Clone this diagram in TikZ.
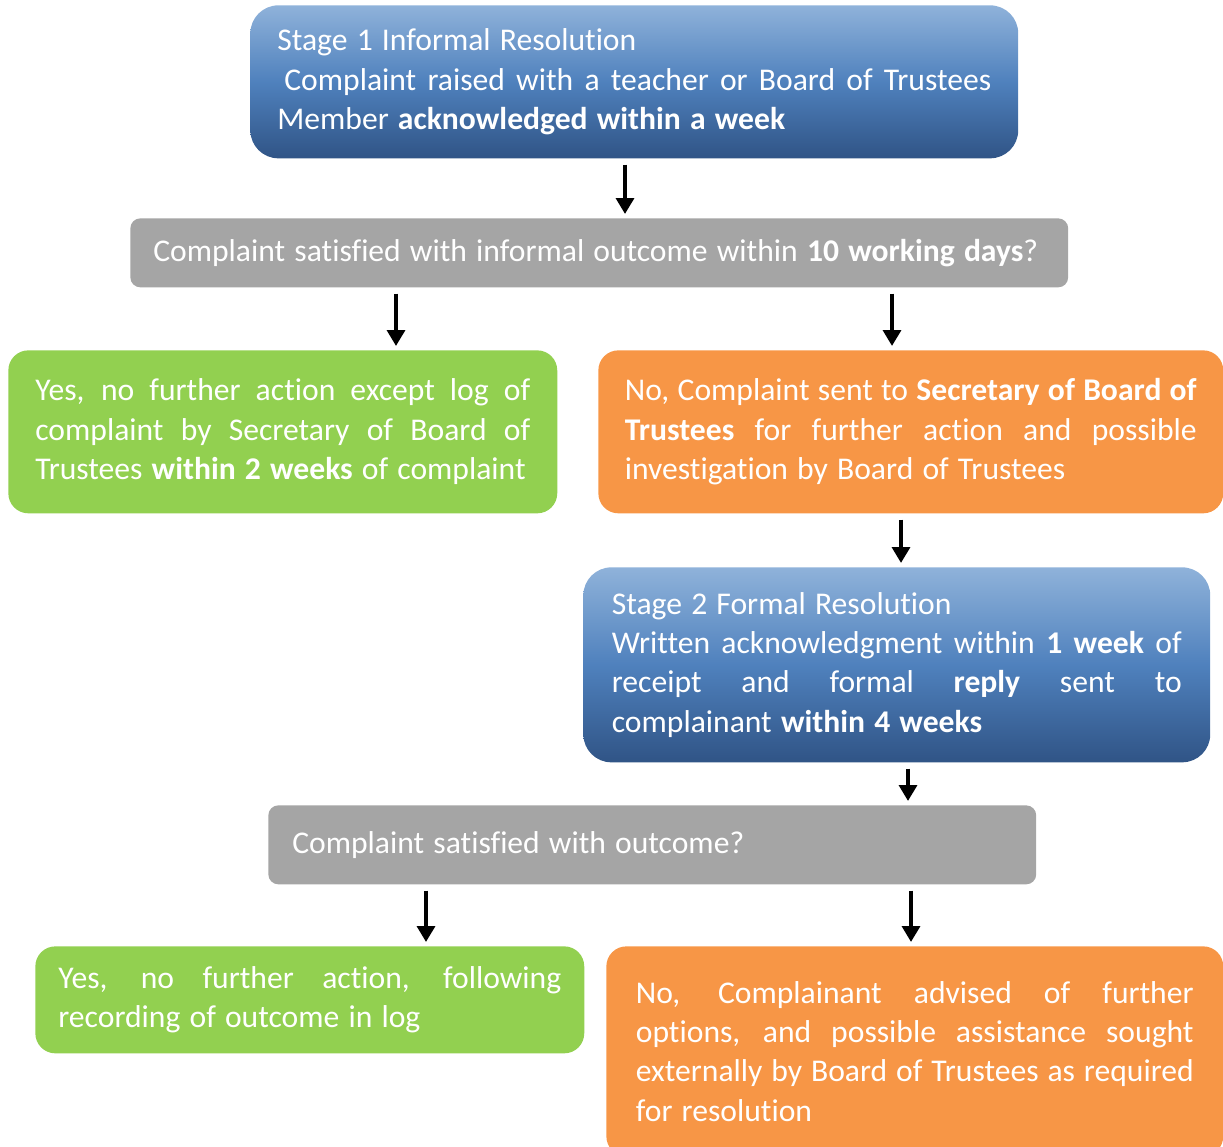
\documentclass[tikz,border=0pt]{standalone}
\usepackage{fontspec}
\setmainfont{Carlito}[RawFeature={-liga;-clig;-calt;-dlig;-rlig;-ccmp}]
\usetikzlibrary{arrows.meta}
\definecolor{askgray}{HTML}{A5A5A5}
\definecolor{yesgreen}{HTML}{92D050}
\definecolor{noorange}{HTML}{F79646}
\definecolor{bluetop}{RGB}{143,178,218}
\definecolor{bluemid}{RGB}{79,129,189}
\definecolor{bluebot}{RGB}{48,84,134}
\tolerance=10000
\hbadness=10000
\hyphenpenalty=10000

\begin{document}
\begin{tikzpicture}[
      x=0.02cm, y=-0.02cm,
      every node/.style={inner sep=0pt,text=white,anchor=north west,
        align=justify,font={\fontsize{18}{22.4}\selectfont
          \spaceskip=0.29em plus 0.15em minus 0.1em}},
      stagebox/.style={rounded corners=0.56cm,top color=bluetop,
        bottom color=bluebot,middle color=bluemid},
      askbox/.style={rounded corners=0.2cm,fill=askgray},
      yesbox/.style={rounded corners=0.4cm,fill=yesgreen},
      nobox/.style={rounded corners=0.4cm,fill=noorange},
      arr/.style={line width=2.8pt,-{Triangle[width=10pt,length=9pt]},
        shorten <=0.12cm,shorten >=0.08cm}
    ]
      \useasboundingbox (0,0) rectangle (1223,1146);

      % stage 1
      \node[stagebox,minimum width=15.36cm,minimum height=3.06cm,
        inner xsep=0.54cm,text width=14.28cm] (s1) at (250,5)
        {Stage 1 Informal Resolution\newline
         \hspace*{4pt}Complaint raised with a teacher or Board of Trustees\linebreak
         Member \textbf{acknowledged within a week}};

      \node[askbox,minimum width=18.76cm,minimum height=1.38cm,
        inner xsep=0.46cm,text width=17.84cm] (d1) at (130,218)
        {\mbox{Complaint satisfied with informal outcome within \textbf{10 working days}?}};

      \node[yesbox,minimum width=10.98cm,minimum height=3.26cm,
        inner xsep=0.54cm,text width=9.9cm] (y1) at (8,350)
        {Yes, no further action except log of\linebreak
         complaint by Secretary of Board of\linebreak
         Trustees \textbf{within 2 weeks} of complaint};

      \node[nobox,minimum width=12.5cm,minimum height=3.26cm,
        inner xsep=0.53cm,text width=11.44cm] (n1) at (598,350)
        {No, Complaint sent to \textbf{Secretary of Board of}\linebreak
         \textbf{Trustees} for further action and possible\linebreak
         investigation by Board of Trustees};

      % stage 2
      \node[stagebox,minimum width=12.54cm,minimum height=3.9cm,
        inner xsep=0.57cm,text width=11.4cm] (s2) at (583,567)
        {Stage 2 Formal Resolution\newline
         Written acknowledgment within \textbf{1 week} of\linebreak
         receipt and formal \textbf{reply} sent to\linebreak
         complainant \textbf{within 4 weeks}};

      \node[askbox,minimum width=15.36cm,minimum height=1.58cm,
        inner xsep=0.48cm,text width=14.4cm] (d2) at (268,805)
        {Complaint satisfied with outcome?};

      \node[yesbox,minimum width=10.98cm,minimum height=2.14cm,
        inner xsep=0.46cm,text width=10.06cm] (y2) at (35,946)
        {Yes, no further action, following\linebreak
         recording of outcome in log};

      \node[nobox,minimum width=12.34cm,minimum height=4.2cm,
        inner xsep=0.59cm,text width=11.16cm] (n2) at (606,946)
        {No, Complainant advised of further\linebreak
         options, and possible assistance sought\linebreak
         externally by Board of Trustees as required\linebreak
         for resolution};

      % arrows
      \foreach \from/\to/\ax in {s1/d1/625,d1/y1/396,d1/n1/892,n1/s2/901,
          s2/d2/908,d2/y2/426,d2/n2/911}
        \draw[arr] (\from.south -| \ax,0) -- (\to.north -| \ax,0);
    \end{tikzpicture}
\end{document}
